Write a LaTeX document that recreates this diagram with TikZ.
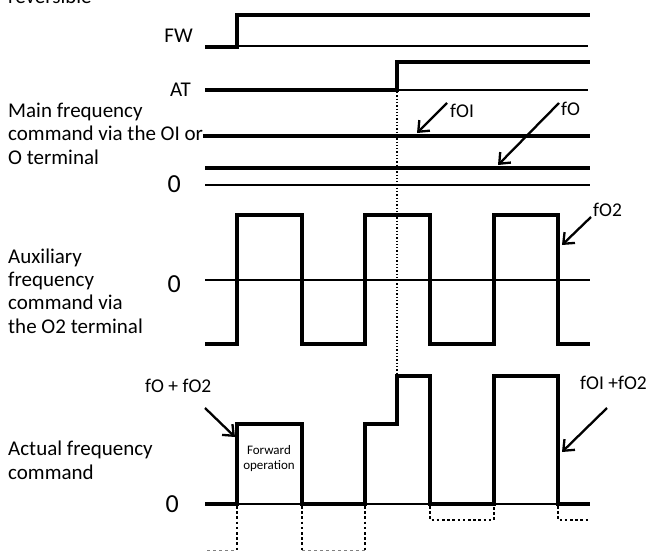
\documentclass[tikz,border=0pt]{standalone}
\usepackage{fontspec}
\setmainfont{Carlito}
\usepackage{tikz}
\usetikzlibrary{arrows.meta}
\tikzstyle{sig} = [line width=3.6pt]
\tikzstyle{base} = [line width=1.1pt]
\tikzstyle{arrow} = [-{Straight Barb[length=9pt,width=15pt]}, line width=2.3pt]
\tikzstyle{lbl} = [font=\fontsize{21}{23.3}\selectfont, align=left, inner sep=0pt]
\tikzstyle{zero} = [font=\fontsize{26}{30}\selectfont, inner sep=0pt]
\tikzstyle{tag} = [font=\fontsize{19.5}{22}\selectfont, inner sep=0pt]
\tikzstyle{neg} = [line width=2.6pt, dash pattern=on 2.6pt off 2.6pt]

\begin{document}
\begin{tikzpicture}[x=1pt,y=-1pt]
\useasboundingbox (0,0) rectangle (646,552);
\node[lbl, anchor=base west] (rev) at (8,3) {reversible};
% FW
\node[lbl, anchor=base east] (fw) at (193,42) {FW};
\draw[base] (237,46) -- (588,46);
\draw[sig] (205,47) -- (237,47) -- (237,15) -- (590,15);
% AT
\node[lbl, anchor=base east] (at) at (191,96) {AT};
\draw[base] (397,90) -- (588,90);
\draw[sig] (205,90) -- (397,90) -- (397,62) -- (590,62);
\draw[line width=1.3pt, dotted] (397,92) -- (397,376);
% main frequency
\node[lbl, anchor=base west] (main) at (8,164) {Main frequency\\command via the OI or\\O terminal};
\draw[sig] (203,136) -- (590,136);
\draw[sig] (205,168) -- (590,168);
\draw[base] (205,185) -- (590,185);
\node[zero, anchor=base east] (z1) at (181,192) {0};
\node[tag, anchor=base west] (foi) at (450,117) {fOI};
\coordinate (foiTail) at (447,103);
\coordinate (foiHead) at (417,133);
\draw[arrow] (foiTail) -- (foiHead);
\node[tag, anchor=base west] (fo) at (561,115) {fO};
\coordinate (foTail) at (559,103);
\coordinate (foHead) at (498,165);
\draw[arrow] (foTail) -- (foHead);
% auxiliary frequency
\node[lbl, anchor=base west] (aux) at (8,333) {Auxiliary\\frequency\\command via\\the O2 terminal};
\draw[base] (205,280) -- (590,280);
\node[zero, anchor=base east] (z2) at (181,292) {0};
\draw[sig] (205,344) -- (237,344) -- (237,215) -- (302,215) -- (302,344) -- (365,344)
  -- (365,215) -- (430,215) -- (430,344) -- (494,344) -- (494,215) -- (558,215)
  -- (558,344) -- (590,344);
\node[tag, anchor=base west] (fo2) at (593,216) {fO2};
\coordinate (fo2Tail) at (591,217);
\coordinate (fo2Head) at (562,245);
\draw[arrow] (fo2Tail) -- (fo2Head);
% actual frequency
\node[lbl, anchor=base west] (act) at (8,479) {Actual frequency\\command};
\draw[base] (205,504) -- (590,504);
\node[zero, anchor=base east] (z3) at (179,512) {0};
\draw[sig] (205,504) -- (237,504) -- (237,424) -- (302,424) -- (302,504) -- (365,504)
  -- (365,424) -- (397,424) -- (397,376) -- (430,376) -- (430,504) -- (494,504)
  -- (494,376) -- (558,376) -- (558,504) -- (590,504);
\node[font=\fontsize{13}{15}\selectfont, align=center, inner sep=0pt] (fwd) at (269,459) {Forward\\operation};
\draw[neg] (237,506) -- (237,552);
\draw[neg] (302,506) -- (302,552);
\draw[neg] (365,506) -- (365,552);
\draw[neg] (430,506) -- (430,520) -- (494,520) -- (494,506);
\draw[neg] (558,506) -- (558,520) -- (590,520);
\draw[gray, line width=0.8pt, dashed] (207,550) -- (237,550);
\draw[gray, line width=0.8pt, dashed] (302,550) -- (365,550);
\node[tag, anchor=base west] (sum1) at (145,392) {fO + fO2};
\coordinate (sum1Tail) at (205,408);
\coordinate (sum1Head) at (235,437);
\draw[arrow] (sum1Tail) -- (sum1Head);
\node[tag, anchor=base west] (sum2) at (580,389) {fOI +fO2};
\coordinate (sum2Tail) at (607,408);
\coordinate (sum2Head) at (562,452);
\draw[arrow] (sum2Tail) -- (sum2Head);
\end{tikzpicture}
\end{document}
